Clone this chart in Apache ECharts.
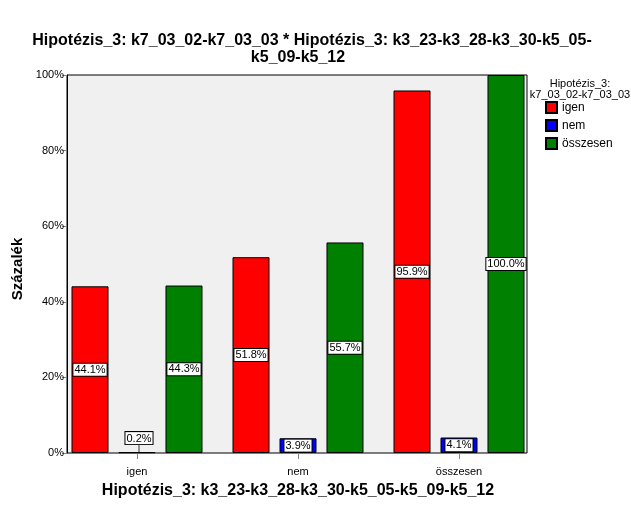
<!DOCTYPE html>
<html><head><meta charset="utf-8">
<script src="https://cdn.jsdelivr.net/npm/echarts@6/dist/echarts.min.js"></script>
<style>html,body{margin:0;padding:0;background:#fff}#c{width:631px;height:506px}</style>
</head><body><div id="c"></div>
<script>
const categories = ['igen', 'nem', 'összesen'];
const seriesNames = ['igen', 'nem', 'összesen'];
const valuesIgen = [44.1, 51.8, 95.9];
const valuesNem = [0.2, 3.9, 4.1];
const valuesOsszesen = [44.3, 55.7, 100.0];
const yTicks = [0, 20, 40, 60, 80, 100];
const colors = ['#ff0000', '#0000ff', '#008000'];

const F = 'Liberation Sans, Arial, sans-serif';
const labelStyle = {
  show: true, position: 'inside', fontFamily: F, fontSize: 11, color: '#000',
  backgroundColor: '#fff', borderColor: '#000', borderWidth: 1, padding: [1, 1, 0, 1],
  formatter: p => p.value.toFixed(1) + '%'
};
function mk(name, vals, i) {
  return {
    name: name, type: 'bar', xAxisIndex: 1, yAxisIndex: 1,
    barWidth: 37, barGap: '27%',
    itemStyle: { color: colors[i], borderColor: '#000', borderWidth: 1 },
    label: labelStyle,
    labelLine: { show: true, lineStyle: { color: '#333', width: 1 } },
    labelLayout: p => (vals[p.dataIndex] < 1 ? { dy: -8, dx: 2 } : {}),
    data: vals.map(v => v < 1 ? { value: v, label: { position: 'top', distance: 0 } } : v)
  };
}
const chart = echarts.init(document.getElementById('c'), null, { renderer: 'canvas' });
chart.setOption({
  animation: false,
  textStyle: { fontFamily: F },
  title: [
    { text: 'Hipotézis_3: k7_03_02-k7_03_03 * Hipotézis_3: k3_23-k3_28-k3_30-k5_05-', left: 307, top: 28, textAlign: 'center',
      textStyle: { fontFamily: F, fontSize: 16, fontWeight: 'bold', color: '#000' } },
    { text: 'k5_09-k5_12', left: 293, top: 45, textAlign: 'center',
      textStyle: { fontFamily: F, fontSize: 16, fontWeight: 'bold', color: '#000' } },
    { text: 'Hipotézis_3:\nk7_03_02-k7_03_03', left: 575, top: 73, textAlign: 'center',
      textStyle: { fontFamily: F, fontSize: 11, fontWeight: 'normal', color: '#000', lineHeight: 11 } }
  ],
  legend: {
    data: seriesNames, orient: 'vertical', left: 540, top: 96, itemWidth: 11, itemHeight: 11, itemGap: 5,
    icon: 'rect', textStyle: { fontFamily: F, fontSize: 12, color: '#000' }
  },
  grid: [
    { left: 67, top: 75, width: 460, height: 378, show: true, backgroundColor: '#f0f0f0', borderColor: '#000', borderWidth: 1, outerBoundsMode: 'none', containLabel: false },
    { left: 56.5, top: 75, width: 483, height: 378, outerBoundsMode: 'none', containLabel: false }
  ],
  xAxis: [
    { gridIndex: 0, type: 'category', data: categories, show: false },
    { gridIndex: 1, type: 'category', data: categories,
      axisLine: { show: false }, axisTick: { show: true, alignWithLabel: true, length: 6, lineStyle: { color: '#888' } },
      axisLabel: { fontFamily: F, fontSize: 11, color: '#000', margin: 13 },
      name: 'Hipotézis_3: k3_23-k3_28-k3_30-k5_05-k5_09-k5_12', nameLocation: 'middle', nameGap: 30,
      nameTextStyle: { fontFamily: F, fontSize: 16, fontWeight: 'bold', color: '#000' } }
  ],
  yAxis: [
    { gridIndex: 0, type: 'value', min: yTicks[0], max: yTicks[yTicks.length - 1], interval: 20,
      axisLine: { show: true, lineStyle: { color: '#000' } },
      axisTick: { show: true, length: 5, lineStyle: { color: '#888' } },
      splitLine: { show: false },
      axisLabel: { fontFamily: F, fontSize: 11, color: '#000', formatter: '{value}%', margin: 3 },
      name: 'Százalék', nameLocation: 'middle', nameGap: 31,
      nameTextStyle: { fontFamily: F, fontSize: 15, fontWeight: 'bold', color: '#000', padding: [0, 10, 0, 0] } },
    { gridIndex: 1, type: 'value', min: 0, max: 100, show: false }
  ],
  series: [
    mk(seriesNames[0], valuesIgen, 0),
    mk(seriesNames[1], valuesNem, 1),
    mk(seriesNames[2], valuesOsszesen, 2)
  ]
});
</script></body></html>
